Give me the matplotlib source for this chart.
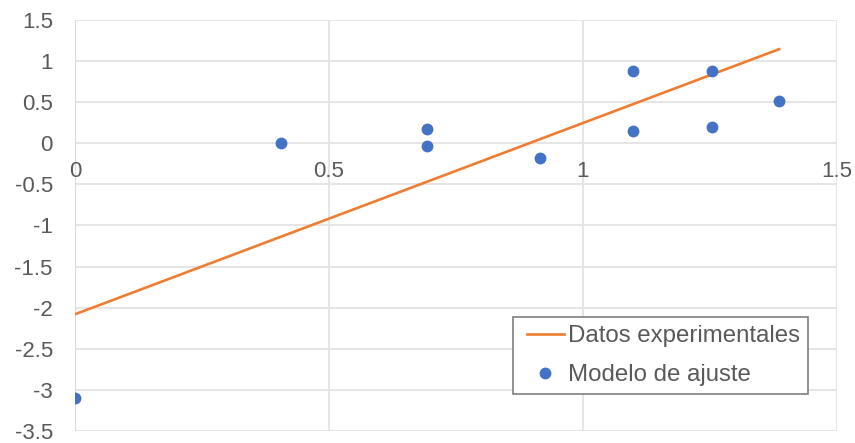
import matplotlib
matplotlib.use("Agg")
import matplotlib.pyplot as plt
from matplotlib.lines import Line2D
from matplotlib.legend_handler import HandlerLine2D

plt.rcParams['font.family'] = ['Liberation Sans', 'DejaVu Sans']

# Observed points
x_obs = [0.0, 0.405, 0.693, 0.693, 0.916, 1.099, 1.099, 1.253, 1.253, 1.386]
y_obs = [-3.10, 0.00, 0.18, -0.03, -0.18, 0.88, 0.15, 0.88, 0.20, 0.52]

# Fitted straight line endpoints
x_line = [0.0, 1.386]
y_line = [-2.08, 1.145]

x_ticks = [0, 0.5, 1, 1.5]
x_tick_labels = ["0", "0.5", "1", "1.5"]
y_ticks = [-3.5, -3, -2.5, -2, -1.5, -1, -0.5, 0, 0.5, 1, 1.5]
y_tick_labels = ["-3.5", "-3", "-2.5", "-2", "-1.5", "-1", "-0.5", "0", "0.5", "1", "1.5"]

text_col = "#595959"
grid_col = "#e3e3e3"
tick_fs = 16
legend_fs = 17.3

fig = plt.figure(figsize=(8.55, 4.43), dpi=100)
ax = fig.add_axes([75 / 855, 12 / 443, (837 - 75) / 855, (431 - 20) / 443])

ax.set_xlim(0, 1.5)
ax.set_ylim(-3.5, 1.5)

for s in ax.spines.values():
    s.set_visible(False)

ax.set_xticks(x_ticks)
ax.set_yticks(y_ticks)
ax.set_yticklabels(y_tick_labels)
ax.set_xticklabels([])
ax.grid(True, color=grid_col, linewidth=1.3, zorder=0)
ax.set_axisbelow(True)
ax.tick_params(axis='both', length=0, colors=text_col, labelsize=tick_fs)
ax.tick_params(axis='y', pad=16)
ax.axvline(0, color="#d9d9d9", linewidth=1.3, zorder=1)

# x tick labels sit just below the horizontal axis at y = 0
for xv, lab in zip(x_ticks, x_tick_labels):
    ax.annotate(lab, xy=(xv, 0), xytext=(0, -12.5), textcoords="offset points",
                ha="center", va="top", fontsize=tick_fs, color=text_col,
                annotation_clip=False)

line, = ax.plot(x_line, y_line, color="#ED7D31", linewidth=1.9,
                label="Datos experimentales", zorder=3)
pts, = ax.plot(x_obs, y_obs, linestyle="none", marker="o", markersize=7.5,
               color="#4472C4", label="Modelo de ajuste", zorder=4)

pad = 0.25
leg = ax.legend(handles=[line, pts], loc="lower left",
                bbox_to_anchor=((513 - 75) / (837 - 75), (431 - 394) / (431 - 20)),
                fontsize=legend_fs, frameon=True, fancybox=False, framealpha=1,
                edgecolor="#7f7f7f", borderpad=0.33, handlelength=1.78,
                handletextpad=0.17, labelspacing=0.7, borderaxespad=0,
                handler_map={Line2D: HandlerLine2D(xpad=pad)})
leg.get_frame().set_linewidth(1.2)
for t in leg.get_texts():
    t.set_color(text_col)

fig.savefig("out.png", dpi=100, facecolor="white")
